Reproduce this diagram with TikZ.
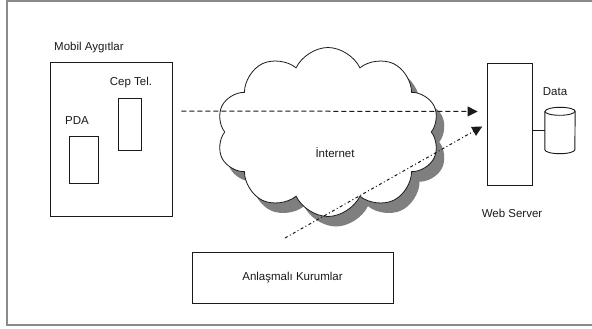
\documentclass[tikz,border=0pt]{standalone}
\usepackage{fontspec}
\setmainfont{Liberation Sans}
\usetikzlibrary{arrows.meta,shapes.symbols,shadows}
\definecolor{ink}{HTML}{1A1A1A}
\definecolor{frame}{HTML}{8A8A8A}
\definecolor{shade}{HTML}{7F7F7F}

\begin{document}
\begin{tikzpicture}[
  x=1pt,y=-1pt,
  box/.style={draw=ink, line width=0.9pt, fill=white, inner sep=0pt},
  label/.style={font=\fontsize{11.5}{13}\selectfont, text=ink, inner sep=0pt},
  dasharrow/.style={-{Triangle[length=10pt,width=10pt]}, draw=ink,
    line width=1pt, dash pattern=on 5pt off 3pt},
  dotarrow/.style={-{Triangle[length=10pt,width=10pt]}, draw=ink,
    line width=1pt, dash pattern=on 3pt off 2.5pt on 1pt off 2.5pt}
]
\useasboundingbox (0,0) rectangle (592,329);

% Outer frame (right edge is cut off in the scan).
\draw[frame, line width=1.6pt] (600,1) -- (7,1) -- (7,325) -- (600,325);

% Mobile devices group.
\node[box, minimum width=122pt, minimum height=154pt] (mobil) at (111,139) {};
\node[label, anchor=west] (mobillabel) at (54,48) {Mobil Aygıtlar};
\node[box, minimum width=23pt, minimum height=52pt] (ceptel) at (129.5,124) {};
\node[label] (ceplabel) at (131,83) {Cep Tel.};
\node[box, minimum width=29pt, minimum height=47pt] (pda) at (83.5,159.5) {};
\node[label] (pdalabel) at (77,121) {PDA};

% The cloud with its drop shadow.
\node[cloud, cloud puffs=10, cloud puff arc=130, aspect=1.3,
  draw=ink, line width=0.8pt, fill=white,
  minimum width=223pt, minimum height=169pt,
  drop shadow={shadow xshift=8pt, shadow yshift=-10pt, fill=shade, opacity=1}]
  (internet) at (328,132) {};
\node[label] (internetlabel) at (335,153) {İnternet};

% Server side.
\node[box, minimum width=45pt, minimum height=122pt] (server) at (509.5,124) {};
\node[label] (serverlabel) at (512,213) {Web Server};

% Data store: a drum drawn on an empty node.
\node[inner sep=0pt, minimum width=30pt, minimum height=46pt] (data) at (560,130.5) {};
\draw[ink, line width=0.9pt, fill=white]
  ([yshift=-4pt]data.north west) -- ([yshift=4pt]data.south west)
  arc[start angle=180, end angle=360, x radius=15pt, y radius=4pt]
  -- ([yshift=-4pt]data.north east)
  arc[start angle=0, end angle=180, x radius=15pt, y radius=4pt];
\draw[ink, line width=0.9pt] ([yshift=-4pt]data.north west)
  arc[start angle=180, end angle=360, x radius=15pt, y radius=4pt];
\node[label] (datalabel) at (555,92) {Data};
\draw[ink, line width=0.9pt] (server.east |- data.west) -- (data.west);

% Partner institutions.
\node[box, minimum width=201pt, minimum height=51pt] (anlasma) at (292.5,277.5) {};
\node[label] (anlasmalabel) at (anlasma.center) {Anlaşmalı Kurumlar};

% Flows to the server.
\coordinate (partnerend) at (285,238);
\draw[dasharrow, shorten <=9pt, shorten >=9pt]
  ([yshift=28pt]mobil.east) -- ([yshift=12.5pt]server.west);
\draw[dotarrow, shorten >=5pt] (partnerend) -- (server.west);

\end{tikzpicture}
\end{document}
